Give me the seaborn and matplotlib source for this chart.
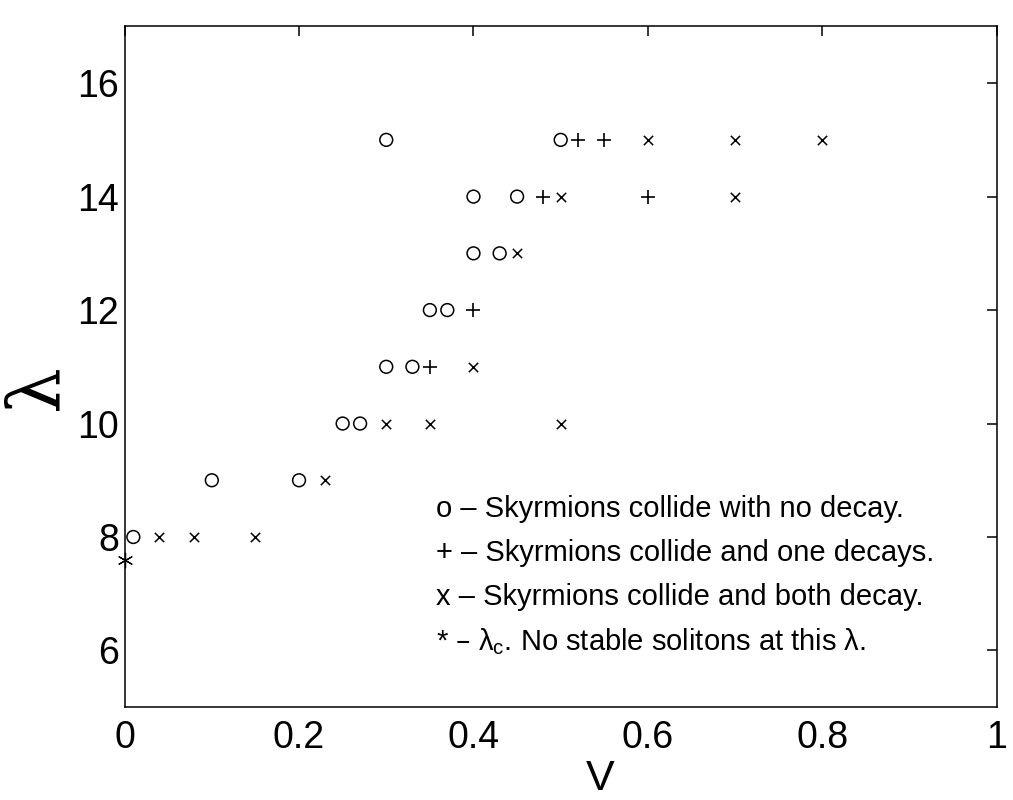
import pandas as pd
import seaborn as sns
from matplotlib import pyplot as plt

# 读图得到的数据 (V, lambda)
no_decay_v = [0.01, 0.10, 0.20, 0.25, 0.27, 0.30, 0.33, 0.35, 0.37, 0.40, 0.43, 0.40, 0.45, 0.30, 0.50]
no_decay_lam = [8, 9, 9, 10, 10, 11, 11, 12, 12, 13, 13, 14, 14, 15, 15]

one_decay_v = [0.35, 0.40, 0.48, 0.60, 0.52, 0.55]
one_decay_lam = [11, 12, 14, 14, 15, 15]

both_decay_v = [0.04, 0.08, 0.15, 0.23, 0.30, 0.35, 0.50, 0.40, 0.45, 0.50, 0.70, 0.60, 0.70, 0.80]
both_decay_lam = [8, 8, 8, 9, 10, 10, 10, 11, 13, 14, 14, 15, 15, 15]

crit_v = [0.0]
crit_lam = [7.6]

legend_lines = [
    "o \u2013 Skyrmions collide with no decay.",
    "+ \u2013 Skyrmions collide and one decays.",
    "x \u2013 Skyrmions collide and both decay.",
    "* \u2013 \u03bb$_\\mathregular{c}$. No stable solitons at this \u03bb.",
]

sns.set_style('white')
plt.rcParams['font.family'] = ['Liberation Sans', 'DejaVu Sans']
plt.rcParams['mathtext.default'] = 'regular'
plt.rcParams['text.color'] = 'black'
plt.rcParams['axes.labelcolor'] = 'black'

fig = plt.figure(figsize=(10.13, 8), dpi=100)
ax = fig.add_axes([0.123, 0.116, 0.861, 0.851])

df_o = pd.DataFrame({'V': no_decay_v, 'lam': no_decay_lam})
df_p = pd.DataFrame({'V': one_decay_v, 'lam': one_decay_lam})
df_x = pd.DataFrame({'V': both_decay_v, 'lam': both_decay_lam})
df_s = pd.DataFrame({'V': crit_v, 'lam': crit_lam})

sns.scatterplot(data=df_o, x='V', y='lam', ax=ax, marker='o', s=85,
                facecolors='none', edgecolor='black', linewidth=1.1)
sns.scatterplot(data=df_p, x='V', y='lam', ax=ax, marker='+', s=90,
                color='black', linewidth=1.2)
sns.scatterplot(data=df_x, x='V', y='lam', ax=ax, marker='x', s=45,
                color='black', linewidth=1.1)
sns.scatterplot(data=df_s, x='V', y='lam', ax=ax, marker=(6, 2, 0), s=110,
                color='black', linewidth=0.9, clip_on=False)

ax.set_xlim(0, 1)
ax.set_ylim(5, 17)
ax.set_xticks([0, 0.2, 0.4, 0.6, 0.8, 1])
ax.set_xticklabels(['0', '0.2', '0.4', '0.6', '0.8', '1'])
ax.set_yticks([6, 8, 10, 12, 14, 16])

for sp in ax.spines.values():
    sp.set_color('black')
    sp.set_linewidth(1.1)
ax.tick_params(direction='in', length=7, width=1.1, colors='black',
               labelsize=27, top=True, right=True)
ax.tick_params(axis='x', pad=9)
ax.tick_params(axis='y', pad=4)

ax.set_xlabel('V', fontsize=31)
ax.set_ylabel('\u03bb', fontsize=52, family=['DejaVu Serif'])
ax.xaxis.set_label_coords(0.545, -0.076)
ax.yaxis.set_label_coords(-0.06, 0.47)

for i, line in enumerate(legend_lines):
    ax.text(0.357, 8.5 - 0.78 * i, line, fontsize=21, va='center', ha='left')

fig.savefig('out.png', dpi=100)
